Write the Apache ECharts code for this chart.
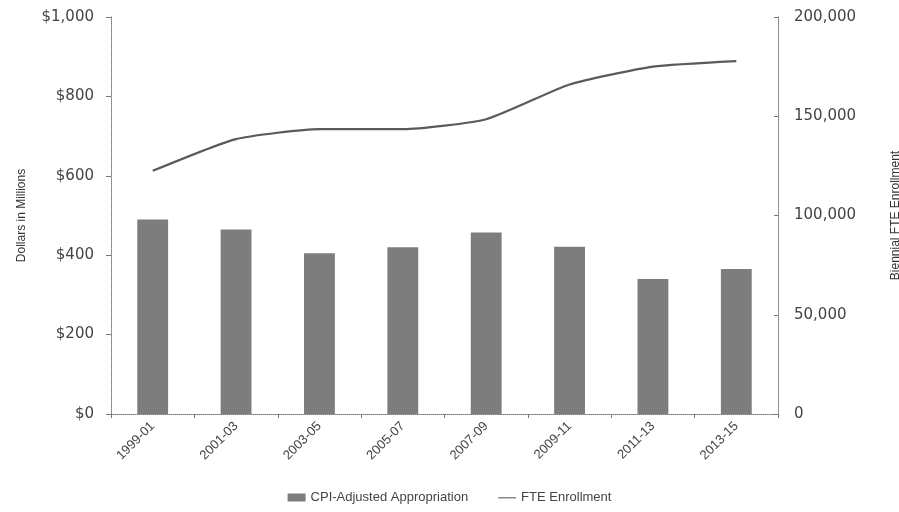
<!DOCTYPE html>
<html><head><meta charset="utf-8">
<script src="https://cdn.jsdelivr.net/npm/echarts@6/dist/echarts.min.js"></script>
<style>html,body{margin:0;padding:0;background:#fff}#c{width:899px;height:512px}</style>
</head><body><div id="c"></div>
<script>
const categories = ['1999-01','2001-03','2003-05','2005-07','2007-09','2009-11','2011-13','2013-15'];
const appropriation = [490, 465, 405, 420, 457, 421, 340, 365];
const enrollment = [122500, 138500, 143500, 143500, 148500, 166000, 175000, 177800];
const leftTicks = {min: 0, max: 1000, interval: 200};
const rightTicks = {min: 0, max: 200000, interval: 50000};

const chart = echarts.init(document.getElementById('c'));
const axisFont = {fontFamily: 'DejaVu Sans', fontSize: 15, color: '#444'};
chart.setOption({
  animation: false,
  backgroundColor: '#fff',
  grid: {left: 111, right: 121, top: 17, bottom: 98, outerBoundsMode: 'none', containLabel: false},
  legend: {
    bottom: 3, left: 'center', itemGap: 30, itemWidth: 18, itemHeight: 8,
    textStyle: {fontFamily: 'Liberation Sans', fontSize: 13, color: '#444'},
    data: [
      {name: 'CPI-Adjusted Appropriation', icon: 'rect'},
      {name: 'FTE Enrollment', icon: 'path://M0,3.5h18v1.4h-18z M0,0h0.01v8h-0.01z'}
    ]
  },
  xAxis: {
    type: 'category', data: categories, boundaryGap: true,
    axisLine: {lineStyle: {color: '#777', type: 'dotted', width: 1}},
    axisTick: {show: true, alignWithLabel: false, length: 4, lineStyle: {color: '#777'}},
    axisLabel: {rotate: 45, fontFamily: 'Liberation Sans', fontSize: 13, color: '#444', margin: 10}
  },
  yAxis: [
    {
      type: 'value', min: leftTicks.min, max: leftTicks.max, interval: leftTicks.interval,
      name: 'Dollars in Millions', nameLocation: 'middle', nameGap: 83, nameRotate: 90,
      nameTextStyle: {fontFamily: 'Liberation Sans', fontSize: 12, color: '#333'},
      axisLine: {show: true, lineStyle: {color: '#777', type: 'dotted'}},
      axisTick: {show: true, length: 5, lineStyle: {color: '#777'}},
      splitLine: {show: false},
      axisLabel: Object.assign({margin: 17, formatter: v => '$' + v.toLocaleString('en-US')}, axisFont)
    },
    {
      type: 'value', min: rightTicks.min, max: rightTicks.max, interval: rightTicks.interval,
      name: 'Biennial FTE Enrollment', nameLocation: 'middle', nameGap: 112, nameRotate: 90,
      nameTextStyle: {fontFamily: 'Liberation Sans', fontSize: 12, color: '#333'},
      axisLine: {show: true, lineStyle: {color: '#777', type: 'dotted'}},
      axisTick: {show: true, inside: true, length: 4, lineStyle: {color: '#777'}},
      splitLine: {show: false},
      axisLabel: Object.assign({margin: 16, formatter: v => v.toLocaleString('en-US')}, axisFont)
    }
  ],
  series: [
    {
      name: 'CPI-Adjusted Appropriation', type: 'bar', yAxisIndex: 0, data: appropriation,
      barWidth: '37%', itemStyle: {color: '#7d7d7d'}
    },
    {
      name: 'FTE Enrollment', type: 'line', yAxisIndex: 1, data: enrollment,
      symbol: 'none', smooth: 0.18, lineStyle: {color: '#5a5a5a', width: 2.2},
      itemStyle: {color: '#8a8a8a'}
    }
  ]
});
</script></body></html>
